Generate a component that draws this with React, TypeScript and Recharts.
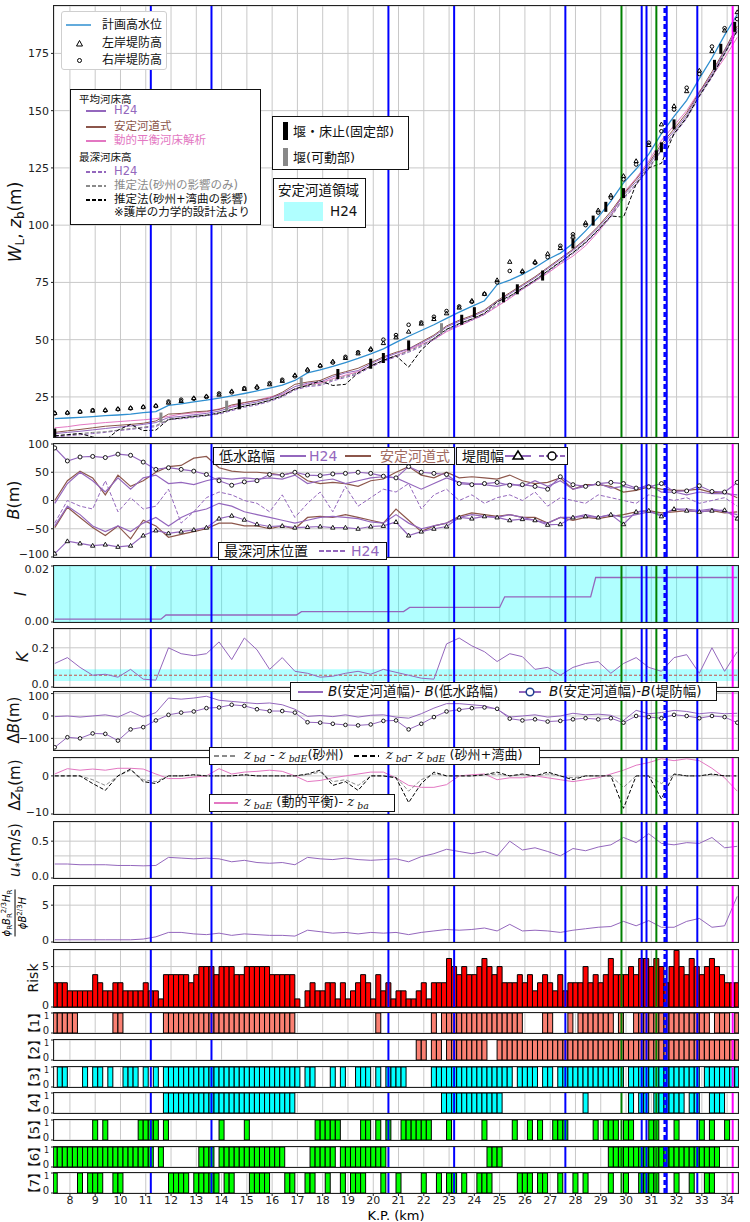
import React from "react";
import { ComposedChart, Line, Bar, Area, XAxis, YAxis, CartesianGrid, ReferenceLine, ReferenceArea } from "recharts";

// river distance (km) for the line series (0.5 km step) and the bar series (0.2 km step)
const KM = Array.from({ length: 55 }, (_, i) => Math.round((7.4 + 0.5 * i) * 10) / 10);
const BAR_KM = Array.from({ length: 136 }, (_, i) => Math.round((7.4 + 0.2 * i) * 10) / 10);
const X_DOMAIN: [number, number] = [7.37, 34.43];
const X_TICKS = [8, 9, 10, 11, 12, 13, 14, 15, 16, 17, 18, 19, 20, 21, 22, 23, 24, 25, 26, 27, 28, 29, 30, 31, 32, 33, 34];

// vertical marker lines
const BLUE_KM = [11.2, 13.6, 20.6, 23.2, 27.6, 30.62, 30.81, 31.61, 32.82];
const GREEN_KM = [29.82, 31.2];
const DASH_KM = [31.53];
const MAGENTA_KM = [34.22];

// --- water level / bed elevation (m)
const HWL = [15.5, 15.8, 16.1, 16.4, 16.8, 17.1, 17.5, 18.1, 18.6, 21.3, 22.0, 22.8, 23.6, 24.5, 25.5, 26.5, 27.6, 28.8, 30.2, 32.2, 35.5, 36.8, 38.3, 40.0, 41.8, 43.8, 46.0, 48.8, 51.5, 54.0, 56.5, 59.3, 62.0, 64.5, 67.0, 74.0, 76.0, 78.5, 81.5, 85.0, 87.8, 92.0, 97.5, 103.5, 110.5, 118.5, 124.5, 131.0, 140.0, 147.5, 154.5, 164.0, 173.0, 183.0, 192.0];
const LEVEE_L = [18.0, 18.2, 18.6, 19.0, 19.3, 19.8, 20.2, 20.7, 21.2, 22.5, 23.2, 24.5, 25.3, 26.0, 27.5, 28.5, 29.5, 30.5, 32.0, 34.5, 37.0, 38.8, 40.5, 42.0, 44.0, 46.0, 48.5, 51.0, 53.5, 57.0, 59.0, 61.5, 64.0, 67.0, 70.0, 76.0, 84.0, 80.0, 84.0, 87.5, 90.0, 95.0, 101.0, 106.5, 113.0, 121.5, 128.0, 135.0, 144.0, 152.0, 158.5, 167.5, 176.0, 185.0, 193.0];
const LEVEE_R = [17.8, 18.0, 18.5, 19.2, 19.0, 19.6, 20.0, 20.5, 21.0, 23.0, 23.8, 24.2, 25.0, 26.5, 27.0, 28.8, 29.0, 31.0, 32.5, 34.0, 36.5, 38.5, 40.0, 42.5, 44.5, 45.5, 50.0, 52.0, 56.5, 57.5, 60.0, 62.5, 64.5, 66.5, 70.0, 75.0, 80.0, 79.5, 83.5, 86.0, 91.0, 96.0, 100.0, 105.5, 112.0, 120.0, 126.5, 136.0, 141.0, 150.5, 160.0, 166.0, 178.0, 186.0, 190.0];
const BED_H24 = [9.0, 9.5, 10.0, 10.6, 11.2, 11.8, 12.3, 13.0, 13.8, 16.0, 16.5, 17.2, 17.8, 18.8, 20.5, 21.8, 22.8, 24.2, 26.5, 29.5, 31.0, 31.5, 33.8, 35.5, 36.5, 39.5, 42.0, 44.0, 46.0, 48.5, 51.5, 55.5, 58.0, 60.0, 62.5, 66.5, 70.0, 73.5, 77.0, 81.0, 85.0, 89.0, 93.5, 99.0, 105.0, 113.0, 119.0, 126.0, 134.5, 141.0, 148.0, 157.5, 166.0, 176.0, 186.0];
const BED_STABLE = [9.5, 10.2, 10.8, 11.5, 12.2, 12.6, 13.0, 13.5, 14.5, 17.5, 17.8, 18.5, 18.8, 19.5, 21.5, 22.5, 23.5, 24.5, 27.0, 30.5, 31.5, 32.2, 34.5, 36.0, 37.5, 40.0, 42.5, 44.5, 46.0, 49.0, 52.0, 56.0, 58.5, 60.5, 63.0, 67.0, 70.5, 74.0, 77.5, 81.5, 85.5, 89.5, 94.0, 99.5, 106.0, 113.5, 120.0, 127.0, 135.5, 142.0, 149.0, 158.0, 167.0, 176.5, 187.0];
const BED_DYN = [11.5, 12.0, 12.8, 13.3, 13.8, 14.2, 14.6, 15.0, 15.5, 16.5, 17.5, 18.0, 18.5, 19.8, 21.0, 22.5, 23.5, 25.0, 26.0, 28.5, 30.5, 31.0, 33.0, 34.5, 36.0, 38.5, 41.0, 43.0, 45.5, 48.0, 50.0, 53.5, 56.0, 58.5, 61.0, 64.5, 68.0, 72.0, 75.5, 79.0, 83.0, 86.5, 91.0, 97.0, 104.0, 114.0, 120.5, 128.0, 137.0, 143.5, 150.0, 158.5, 165.0, 173.0, 182.0];
const DEEP_H24 = [7.5, 8.0, 8.5, 9.0, 9.5, 10.3, 10.8, 11.5, 12.0, 15.0, 15.5, 16.0, 16.8, 17.5, 19.0, 20.5, 21.5, 23.0, 25.0, 28.0, 29.5, 30.0, 32.0, 33.5, 35.0, 38.0, 40.5, 42.5, 44.5, 47.0, 50.0, 54.0, 56.5, 58.5, 61.0, 65.0, 68.5, 72.0, 75.5, 79.5, 83.5, 87.5, 92.0, 97.5, 103.5, 111.5, 117.5, 124.5, 132.5, 139.5, 146.5, 156.0, 164.5, 174.5, 184.5];
const DEEP_SAND = [8.0, 8.5, 9.0, 9.5, 9.8, 10.5, 11.2, 11.8, 12.5, 15.2, 15.8, 16.5, 17.0, 18.0, 19.5, 21.0, 22.0, 23.5, 25.5, 28.5, 30.0, 30.5, 32.5, 34.0, 35.5, 38.5, 41.0, 43.0, 45.0, 47.5, 50.5, 54.5, 57.0, 59.0, 61.5, 65.5, 69.0, 72.5, 76.0, 80.0, 84.0, 88.0, 92.5, 98.0, 104.0, 112.0, 118.0, 125.0, 133.0, 140.0, 147.0, 156.5, 165.0, 175.0, 185.0];
const DEEP_BEND = [8.0, 8.5, 9.0, 7.5, 6.0, 10.5, 13.0, 10.3, 10.5, 15.2, 15.8, 16.5, 17.0, 18.0, 19.5, 21.0, 22.0, 23.5, 25.5, 28.5, 30.0, 32.0, 30.0, 30.5, 35.5, 38.5, 41.0, 43.0, 38.0, 45.5, 50.5, 54.5, 57.0, 59.0, 61.5, 66.5, 69.0, 72.5, 76.0, 80.0, 84.0, 88.0, 92.5, 98.0, 104.0, 103.5, 118.0, 125.0, 127.0, 140.0, 147.0, 156.5, 165.0, 175.0, 185.0];

// weirs / sills
const FIX_KM = [7.4, 14.7, 18.6, 19.9, 20.4, 21.4, 23.5, 24.0, 25.15, 25.7, 26.7, 27.9, 28.7, 29.2, 29.9, 31.2, 31.4, 31.9, 33.5, 33.75, 34.3];
const FIX_Z = [9.0, 21.8, 35.0, 39.5, 42.0, 47.5, 58.7, 62.0, 68.5, 72.0, 78.0, 92.0, 102.0, 108.0, 114.0, 130.5, 134.0, 144.0, 170.0, 177.0, 186.6];
const MOV_KM = [11.6, 14.2, 17.15, 22.7];
const MOV_Z = [16.0, 21.2, 31.3, 55.0];

// --- widths B (m)
const LOW_UP = [-5, 30, 50, 35, 15, 40, 20, 40, 45, 30, 32, 28, 35, 40, 38, 40, 38, 40, 38, 45, 30, 35, 38, 30, 35, 40, 42, 40, 30, 20, 30, 40, 32, 30, 28, 25, 30, 25, 35, 25, 35, 20, 25, 30, 22, 25, 20, 28, 15, 15, 10, 15, 12, 12, 10];
const LOW_LO = [-45, -10, -25, -45, -55, -45, -55, -40, -30, -45, -30, -20, -15, -5, -10, -20, -25, -30, -35, -40, -35, -30, -28, -30, -32, -38, -40, -25, -40, -50, -45, -40, -30, -25, -28, -30, -25, -30, -35, -40, -30, -30, -25, -30, -25, -30, -25, -20, -25, -15, -15, -18, -15, -20, -25];
const STB_UP = [0, 35, 52, 40, 10, 45, 25, 35, 50, 60, 62, 75, 78, 58, 52, 50, 50, 48, 45, 50, 35, 30, 32, 30, 25, 35, 38, 50, 60, 45, 40, 50, 40, 42, 40, 38, 45, 35, 30, 32, 40, 20, 28, 28, 25, 15, 18, 24, 20, 18, 18, 20, 14, 15, 5];
const STB_LO = [-48, -12, -30, -48, -62, -45, -68, -35, -45, -65, -60, -55, -50, -40, -40, -45, -45, -50, -45, -50, -30, -28, -30, -25, -30, -35, -40, -15, -35, -55, -45, -40, -28, -22, -25, -28, -25, -30, -30, -40, -30, -35, -30, -32, -28, -25, -20, -18, -22, -20, -18, -20, -18, -22, -20];
const DEEP_POS = [-40, 0, -10, -15, 35, -20, 5, -15, -10, 20, -40, -20, 5, 15, 10, 0, -5, -20, 10, -30, -5, 15, -20, 25, -10, 5, 20, 15, 30, -15, 10, 20, 0, 10, -5, 5, 10, 0, 15, -10, 5, 0, -5, 10, 5, 0, -5, 10, 5, 0, 5, -5, 0, 5, -10];
const LEVEE_BL = [-94, -72, -76, -80, -78, -82, -80, -62, -53, -58, -55, -52, -48, -32, -27, -34, -42, -46, -45, -48, -47, -46, -48, -48, -50, -46, -45, -38, -62, -55, -50, -46, -30, -32, -28, -30, -35, -33, -35, -43, -42, -30, -28, -30, -25, -42, -20, -18, -28, -15, -18, -20, -18, -17, -32];
const LEVEE_BR = [93, 70, 77, 78, 76, 82, 80, 68, 55, 58, 55, 52, 46, 35, 27, 33, 35, 46, 45, 50, 45, 44, 47, 48, 50, 48, 43, 40, 60, 50, 48, 46, 30, 28, 30, 32, 27, 28, 25, 20, 42, 28, 25, 30, 32, 30, 22, 24, 30, 16, 17, 26, 16, 15, 32];

// --- slope I (step values) and stable-channel band
const I_KM = [7.4, 11.6, 11.8, 16.96, 17.16, 21.2, 21.44, 25.0, 25.2, 28.6, 28.8, 34.4];
const I_VAL = [0.001, 0.001, 0.0025, 0.0025, 0.0037, 0.0037, 0.0052, 0.0052, 0.009, 0.009, 0.0159, 0.0159];
const I_BAND_KM = [7.3, 11.3, 11.35, 11.42, 34.5];
const I_BAND = [0.02, 0.02, 0.0185, 0.02, 0.02];

// --- K
const K_VAL = [0.12, 0.15, 0.10, 0.06, 0.065, 0.05, 0.09, 0.04, 0.035, 0.20, 0.17, 0.16, 0.17, 0.23, 0.14, 0.25, 0.19, 0.09, 0.15, 0.08, 0.07, 0.05, 0.055, 0.07, 0.08, 0.065, 0.09, 0.075, 0.06, 0.045, 0.04, 0.22, 0.25, 0.21, 0.18, 0.13, 0.17, 0.155, 0.09, 0.10, 0.06, 0.10, 0.12, 0.13, 0.07, 0.12, 0.15, 0.10, 0.08, 0.15, 0.165, 0.07, 0.2, 0.08, 0.18];
const K_BAND = [0.03, 0.09];
const K_CRIT = 0.06;

// --- ΔB (m)
const DB_LOW = [-3, 0, -5, 0, 5, -5, 20, -5, 15, 80, 75, 80, 88, 70, 65, 60, 55, 58, 50, 30, -2, 2, -3, 5, -5, 3, 5, -5, -10, 10, 35, 55, 55, 50, 45, 30, -5, 0, 5, -5, 0, 12, 5, 8, 3, -20, 25, 10, 15, 25, 20, 10, 15, 10, 12];
const DB_LEVEE = [-140, -95, -100, -78, -80, -110, -60, -50, -20, 5, 15, 20, 35, 38, 50, 45, 30, 22, 22, 15, -28, -30, -35, -40, -42, -38, -22, -20, -60, -35, -5, 20, 28, 35, 38, 32, -12, -20, -15, -25, -22, -15, -10, -15, -10, -30, 0, -5, -10, 5, 0, -10, 0, -5, -30];

// --- Δz_b (m)
const DZ_SAND = [0, 0, 0, -1, -2.5, 0, 1.5, -1, -1.5, 0, 0, 0.2, 0, 0, 0, 0.2, 0, 0, 0, 0, 0.3, 1, -1.5, -1, -2.5, 0, 0, -0.3, -4, -1, 0.5, 0, 0, 0, 0.2, 0.5, 0, 0.3, 0, 0.5, 0, -0.5, 0, 0, 0, -3, 0, 0, -2, 0.3, 0, 0, 0.3, 0, 0];
const DZ_BEND = [0, 0, 0, -2, -3.8, 0, 1.8, -1.5, -2, 0, 0, 0.3, 0, 0, 0, 0.3, 0, 0, 0, 0, 0.5, 1.5, -2.5, -1.5, -3.8, 0, 0, -0.5, -7, -2, 1, 0, 0, 0, 0.3, 1, 0, 0.5, 0, 1, 0, -1, 0, 0, 0, -8.5, 0, 0, -6, 0.5, 0, 0, 0.5, 0, 0];
const DZ_DYN = [0.5, 1.9, 1.5, 1.8, 1.5, 2.0, 2.0, 1.8, 0.5, -0.7, -0.7, -0.3, 0, 1.9, 0.5, 1.0, 1.2, 1.5, 1.2, 0, -1.5, -1.2, -0.5, 0, 0.5, 1.0, 1.0, -0.5, -2.5, -3.0, -3.0, -2.3, 0, 0.3, 0.5, -1.0, -0.5, -0.5, 0, -0.5, -1.0, -1.5, -1.0, -0.5, 0.5, 1.5, 2.8, 3.5, 4.5, 4.0, 4.5, 4.0, 2.0, -0.5, -4.0];

// --- u* (m/s) and width-depth ratio
const USTAR = [0.19, 0.19, 0.18, 0.18, 0.18, 0.17, 0.17, 0.165, 0.17, 0.28, 0.27, 0.26, 0.27, 0.26, 0.22, 0.24, 0.21, 0.2, 0.21, 0.18, 0.28, 0.26, 0.25, 0.27, 0.25, 0.24, 0.25, 0.26, 0.22, 0.29, 0.33, 0.39, 0.36, 0.33, 0.36, 0.3, 0.5, 0.38, 0.41, 0.36, 0.3, 0.4, 0.37, 0.42, 0.45, 0.55, 0.48, 0.6, 0.47, 0.45, 0.48, 0.47, 0.55, 0.41, 0.43];
const RATIO = [0.3, 0.3, 0.3, 0.3, 0.3, 0.3, 0.3, 0.4, 0.7, 1.3, 1.3, 1.1, 1.0, 1.2, 0.9, 1.1, 1.0, 0.9, 0.9, 0.8, 1.6, 1.4, 1.2, 1.3, 1.1, 1.3, 1.2, 1.3, 1.0, 1.3, 1.5, 1.7, 1.6, 1.7, 1.9, 1.5, 2.4, 1.5, 1.6, 1.5, 1.3, 1.6, 1.8, 2.0, 2.1, 2.8, 2.2, 2.9, 2.0, 2.0, 2.8, 3.2, 2.0, 2.2, 6.2];

// --- risk score and the seven criteria, one digit per 0.2 km section
const RISK_STR = "3332222243 2233222232 2144444345 5545554455 5554444410 2322331312 3431423122 1123133365 4544565453 3343423432 4233353434 6444546656 5357546545 654333";
const F1_STR = "1111100000 0011000000 0011111111 1111111111 1111111100 0000000000 0000100000 0000010111 1111111111 1110000110 0010111111 1010011111 1111111111 011101";
const F2_STR = "0000000000 0000000000 0000000000 0000000000 0000000000 0000000000 0000000000 0011011011 1111110011 1111111111 1111111111 1111111111 1111111111 111111";
const F3_STR = "0110001011 0100111010 1011111111 1111111111 1111111110 1100010100 1110101111 0000011111 1111111111 1011110110 1111111111 1110111111 1111111101 111111";
const F4_STR = "0000000000 0000000000 0011111111 1111111111 1111111100 0000000000 0000000000 0000000111 1111111110 0000000000 0000010000 0000101101 1111101100 111000";
const F5_STR = "0000000010 1000000111 1010000000 0001000010 0000000000 0011111000 0110101001 1111100010 0000010000 0100101001 1100000101 1101100011 0001000010 100100";
const F6_STR = "1111111111 1111111111 0100000001 1101111111 1111110000 0111110111 1111110000 0000000000 0000001110 0000000000 0000000000 1111111111 1111111111 110000";
const F7_STR = "1000010111 0011000000 0001111011 1110110001 1110001100 1100100101 1100010010 0001001011 0100111000 0011101100 1001010000 1001001111 0001001001 100000";

const digits = (s: string) => s.replace(/\s/g, "").split("").map(Number);

const LINE_ROWS = KM.map((km, i) => ({
  km, hwl: HWL[i], levL: LEVEE_L[i], levR: LEVEE_R[i], bedH24: BED_H24[i], bedSt: BED_STABLE[i], bedDyn: BED_DYN[i],
  deepH24: DEEP_H24[i], deepSand: DEEP_SAND[i], deepBend: DEEP_BEND[i],
  lowUp: LOW_UP[i], lowLo: LOW_LO[i], stbUp: STB_UP[i], stbLo: STB_LO[i], deepPos: DEEP_POS[i], levBL: LEVEE_BL[i], levBR: LEVEE_BR[i],
  k: K_VAL[i], dbLow: DB_LOW[i], dbLev: DB_LEVEE[i], dzSand: DZ_SAND[i], dzBend: DZ_BEND[i], dzDyn: DZ_DYN[i],
  ustar: USTAR[i], ratio: RATIO[i],
}));
const FLAG_STRS = [F1_STR, F2_STR, F3_STR, F4_STR, F5_STR, F6_STR, F7_STR].map(digits);
const RISK = digits(RISK_STR);
const BAR_ROWS = BAR_KM.map((km, i) => {
  const r: any = { km, risk: RISK[i] };
  FLAG_STRS.forEach((f, j) => (r["f" + (j + 1)] = f[i]));
  return r;
});
const FIX_ROWS = FIX_KM.map((km, i) => ({ km, z: FIX_Z[i] }));
const MOV_ROWS = MOV_KM.map((km, i) => ({ km, z: MOV_Z[i] }));
const I_ROWS = I_KM.map((km, i) => ({ km, v: I_VAL[i] }));
const I_BAND_ROWS = I_BAND_KM.map((km, i) => ({ km, v: I_BAND[i] }));

const FONT = "'DejaVu Sans', 'Noto Sans CJK JP', sans-serif";
const PAD = 8;
const PURPLE = "#9467bd";
const BROWN = "#8c564b";
const PINK = "#e377c2";
const minus = (v: number) => (v < 0 ? "\u2212" + Math.abs(v) : String(v));

const vlines = () => [
  ...BLUE_KM.map((k) => <ReferenceLine key={"b" + k} x={k} stroke="#0000ff" strokeWidth={2} />),
  ...GREEN_KM.map((k) => <ReferenceLine key={"g" + k} x={k} stroke="#008000" strokeWidth={2} />),
  ...DASH_KM.map((k) => <ReferenceLine key={"d" + k} x={k} stroke="#0000ff" strokeWidth={2.5} strokeDasharray="5 3" />),
  ...MAGENTA_KM.map((k) => <ReferenceLine key={"m" + k} x={k} stroke="#ff00ff" strokeWidth={2} />),
];

const tri = (s: number, fill: string, sw: number) => (p: any) => {
  if (p.cx == null || p.cy == null || isNaN(p.cy)) return <g key={"t" + p.index} />;
  const { cx, cy } = p;
  return <path key={"t" + p.index} d={`M${cx},${cy - s}L${cx + s * 0.95},${cy + s * 0.65}L${cx - s * 0.95},${cy + s * 0.65}Z`} fill={fill} stroke="#000" strokeWidth={sw} />;
};
const circ = (r: number, fill: string, stroke: string, sw: number) => (p: any) => {
  if (p.cx == null || p.cy == null || isNaN(p.cy)) return <g key={"c" + p.index} />;
  return <circle key={"c" + p.index} cx={p.cx} cy={p.cy} r={r} fill={fill} stroke={stroke} strokeWidth={sw} />;
};
const weir = (fill: string) => (p: any) => {
  if (p.cx == null || p.cy == null) return <g key={"w" + p.index} />;
  return <rect key={"w" + p.index} x={p.cx - 1.5} y={p.cy - 5} width={3} height={10} fill={fill} />;
};

// y tick label with a small vertical nudge for the ends that touch the next panel
const mkTick = (fmt: (v: number) => string, nudge: Record<string, number>, size = 11) => (p: any) => {
  const v = p.payload.value;
  const dy = nudge[String(v)] ?? 0;
  return (
    <text x={p.x} y={p.y} dy={dy + size * 0.35} textAnchor="end" fontSize={size} fill="#222">{fmt(v)}</text>
  );
};
const flagTick = (p: any) => {
  const v = p.payload.value;
  return (
    <text x={p.x} y={p.y} dy={v === 1 ? 6 : 1} textAnchor="end" fontSize={v === 1 ? 8 : 10} fill="#222">{v}</text>
  );
};

type PanelProps = {
  top: number; h: number; domain: [number, number]; ticks: number[];
  data: any[]; showX?: boolean; tick?: any; children: React.ReactNode;
};

function Panel({ top, h, domain, ticks, data, showX, tick, children }: PanelProps) {
  const bottom = showX ? 26 : PAD;
  return (
    <div style={{ position: "absolute", left: 0, top: top - PAD }}>
      <ComposedChart width={750} height={h + PAD + bottom} data={data}
        margin={{ top: PAD, right: 12, bottom: showX ? 0 : PAD, left: 14 }} barCategoryGap={0} barGap={0}>
        <CartesianGrid stroke="#c8c8c8" strokeWidth={1} />
        <XAxis type="number" dataKey="km" domain={X_DOMAIN} ticks={X_TICKS} interval={0} allowDataOverflow
          hide={!showX} height={showX ? 26 : 0} tickSize={3} tickMargin={0} axisLine={false}
          tick={{ fontSize: 11, fill: "#222" }} tickLine={{ stroke: "#222" }} />
        <YAxis type="number" domain={domain} ticks={ticks} interval={0} allowDataOverflow width={40}
          tickSize={3} axisLine={false}
          tick={tick || mkTick(minus, {})} tickLine={{ stroke: "#222" }} />
        {children}
        {vlines()}
      </ComposedChart>
      <div style={{ position: "absolute", left: 53, top: PAD - 1, width: 686, height: h + 2, border: "1.5px solid #222", boxSizing: "border-box", pointerEvents: "none" }} />
    </div>
  );
}

const VLabel = ({ x, y, size, children }: { x: number; y: number; size: number; children: React.ReactNode }) => (
  <div style={{ position: "absolute", left: x, top: y, transform: "translate(-50%, -50%) rotate(-90deg)", fontSize: size, whiteSpace: "nowrap", lineHeight: 1, color: "#111" }}>
    {children}
  </div>
);

const sub = (t: string) => <sub style={{ fontSize: "0.7em", verticalAlign: "-0.25em" }}>{t}</sub>;
const zs = (t: string) => (
  <span><span style={{ fontFamily: "'DejaVu Serif', serif", fontStyle: "italic" }}>z</span><sub style={{ fontSize: "0.72em", verticalAlign: "-0.3em", fontFamily: "'DejaVu Serif', serif", fontStyle: "italic" }}> {t}</sub></span>
);

const Box = ({ x, y, w, h, grey, children }: any) => (
  <div style={{ position: "absolute", left: x, top: y, width: w, height: h, background: "#fff", border: grey ? "1px solid #cfcfcf" : "1px solid #111", borderRadius: grey ? 3 : 0, boxSizing: "border-box" }}>
    {children}
  </div>
);
const Txt = ({ x, y, size, color, children }: any) => (
  <div style={{ position: "absolute", left: x, top: y, transform: "translateY(-50%)", fontSize: size, color: color || "#111", whiteSpace: "nowrap", lineHeight: 1 }}>{children}</div>
);
const Sample = ({ x, y, w, color, dash, width, marker }: any) => (
  <svg style={{ position: "absolute", left: x, top: y - 7 }} width={w} height={14}>
    <line x1={0} y1={7} x2={w} y2={7} stroke={color} strokeWidth={width || 2} strokeDasharray={dash} />
    {marker === "tri" && <path d={`M${w / 2},2L${w / 2 + 5},10L${w / 2 - 5},10Z`} fill="#fff" stroke="#000" strokeWidth={1.5} />}
    {marker === "circ" && <circle cx={w / 2} cy={7} r={4} fill="#fff" stroke="#000" strokeWidth={1.5} />}
    {marker === "circBlue" && <circle cx={w / 2} cy={7} r={3.8} fill="#fff" stroke="#1f3f8f" strokeWidth={1.5} />}
  </svg>
);

export default function App() {
  const flagPanels = [
    { key: "f1", label: "【1】", fill: "#fa8072", top: 1013 },
    { key: "f2", label: "【2】", fill: "#fa8072", top: 1040 },
    { key: "f3", label: "【3】", fill: "#00ffff", top: 1067 },
    { key: "f4", label: "【4】", fill: "#00ffff", top: 1093 },
    { key: "f5", label: "【5】", fill: "#00ff00", top: 1120 },
    { key: "f6", label: "【6】", fill: "#00ff00", top: 1147 },
    { key: "f7", label: "【7】", fill: "#00ff00", top: 1173 },
  ];
  const f1 = (v: number) => v.toFixed(1);
  const f2 = (v: number) => v.toFixed(2);
  return (
    <div style={{ position: "absolute", left: 0, top: 0, width: 750, height: 1222, background: "#fff", fontFamily: FONT, overflow: "hidden" }}>
      {/* main: water level & bed */}
      <Panel top={6} h={431} domain={[7.5, 195.7]} ticks={[25, 50, 75, 100, 125, 150, 175]} data={LINE_ROWS}>
        <Line dataKey="hwl" stroke="#2f8fd0" strokeWidth={1.3} dot={false} isAnimationActive={false} />
        <Line dataKey="levL" stroke="none" dot={tri(2.3, "none", 1)} activeDot={false} isAnimationActive={false} />
        <Line dataKey="levR" stroke="none" dot={circ(1.8, "none", "#000", 1)} activeDot={false} isAnimationActive={false} />
        <Line dataKey="bedDyn" stroke={PINK} strokeWidth={1} dot={false} isAnimationActive={false} />
        <Line dataKey="bedSt" stroke={BROWN} strokeWidth={1} dot={false} isAnimationActive={false} />
        <Line dataKey="bedH24" stroke={PURPLE} strokeWidth={1} dot={false} isAnimationActive={false} />
        <Line dataKey="deepH24" stroke={PURPLE} strokeWidth={1} strokeDasharray="4 2" dot={false} isAnimationActive={false} />
        <Line dataKey="deepSand" stroke="#7f7f7f" strokeWidth={1} strokeDasharray="4 2" dot={false} isAnimationActive={false} />
        <Line dataKey="deepBend" stroke="#000" strokeWidth={1} strokeDasharray="4 2" dot={false} isAnimationActive={false} />
        <Line data={MOV_ROWS} dataKey="z" stroke="none" dot={weir("#888")} activeDot={false} isAnimationActive={false} />
        <Line data={FIX_ROWS} dataKey="z" stroke="none" dot={weir("#000")} activeDot={false} isAnimationActive={false} />
      </Panel>

      {/* B */}
      <Panel top={444} h={113} domain={[-100, 100]} ticks={[-100, -50, 0, 50, 100]} tick={mkTick(minus, { "-100": -3 })} data={LINE_ROWS}>
        <Line dataKey="stbUp" stroke={BROWN} strokeWidth={1.2} dot={false} isAnimationActive={false} />
        <Line dataKey="stbLo" stroke={BROWN} strokeWidth={1.2} dot={false} isAnimationActive={false} />
        <Line dataKey="lowUp" stroke={PURPLE} strokeWidth={1.2} dot={false} isAnimationActive={false} />
        <Line dataKey="lowLo" stroke={PURPLE} strokeWidth={1.2} dot={false} isAnimationActive={false} />
        <Line dataKey="deepPos" stroke={PURPLE} strokeWidth={1} strokeDasharray="4 2" dot={false} isAnimationActive={false} />
        <Line dataKey="levBL" stroke={PURPLE} strokeWidth={1.2} dot={tri(2.3, "#fff", 0.9)} activeDot={false} isAnimationActive={false} />
        <Line dataKey="levBR" stroke={PURPLE} strokeWidth={1.2} dot={circ(2, "#fff", "#000", 0.9)} activeDot={false} isAnimationActive={false} />
      </Panel>

      {/* I */}
      <Panel top={566} h={56} domain={[0, 0.02]} ticks={[0, 0.02]} tick={mkTick(f2, { "0": -1, "0.02": 3 })} data={LINE_ROWS}>
        <Area data={I_BAND_ROWS} dataKey="v" type="linear" stroke="none" fill="#00ffff" fillOpacity={0.31} isAnimationActive={false} />
        <Line data={I_ROWS} dataKey="v" stroke={PURPLE} strokeWidth={1.3} dot={false} isAnimationActive={false} />
      </Panel>

      {/* K */}
      <Panel top={629} h={58} domain={[0, 0.296]} ticks={[0, 0.2]} tick={mkTick(f1, { "0": -3 })} data={LINE_ROWS}>
        <ReferenceArea y1={K_BAND[0]} y2={K_BAND[1]} fill="#00ffff" fillOpacity={0.31} stroke="none" />
        <ReferenceLine y={K_CRIT} stroke="#c8504a" strokeWidth={1} strokeDasharray="3 2" />
        <Line dataKey="k" stroke={PURPLE} strokeWidth={1} dot={false} isAnimationActive={false} />
      </Panel>

      {/* ΔB */}
      <Panel top={692} h={58} domain={[-152, 107]} ticks={[-100, 0, 100]} tick={mkTick(minus, { "100": 3 })} data={LINE_ROWS}>
        <Line dataKey="dbLow" stroke={PURPLE} strokeWidth={1} dot={false} isAnimationActive={false} />
        <Line dataKey="dbLev" stroke={PURPLE} strokeWidth={1} dot={circ(1.8, "#fff", "#000", 0.9)} activeDot={false} isAnimationActive={false} />
      </Panel>

      {/* Δz_b */}
      <Panel top={758} h={56} domain={[-10, 4.7]} ticks={[-10, 0]} tick={mkTick(minus, { "-10": -2 })} data={LINE_ROWS}>
        <Line dataKey="dzDyn" stroke={PINK} strokeWidth={1} dot={false} isAnimationActive={false} />
        <Line dataKey="dzSand" stroke="#8a8a8a" strokeWidth={1} strokeDasharray="4 2" dot={false} isAnimationActive={false} />
        <Line dataKey="dzBend" stroke="#000" strokeWidth={1} strokeDasharray="4 2" dot={false} isAnimationActive={false} />
      </Panel>

      {/* u* */}
      <Panel top={822} h={56} domain={[0, 0.76]} ticks={[0, 0.5]} tick={mkTick(f1, { "0": -2 })} data={LINE_ROWS}>
        <ReferenceLine y={0.3} stroke="#c8c8c8" />
        <Line dataKey="ustar" stroke={PURPLE} strokeWidth={1} dot={false} isAnimationActive={false} />
      </Panel>

      {/* ratio */}
      <Panel top={886} h={56} domain={[0, 7.6]} ticks={[0, 5]} tick={mkTick(minus, { "0": -2 })} data={LINE_ROWS}>
        <Line dataKey="ratio" stroke={PURPLE} strokeWidth={1} dot={false} isAnimationActive={false} />
      </Panel>

      {/* Risk */}
      <Panel top={950} h={57} domain={[0, 7.05]} ticks={[0, 5]} tick={mkTick(minus, { "0": -2 })} data={BAR_ROWS}>
        <Bar dataKey="risk" fill="#ff0000" stroke="#000" strokeWidth={1} barSize={5} isAnimationActive={false} />
      </Panel>

      {flagPanels.map((f, i) => (
        <Panel key={f.key} top={f.top} h={20} domain={[0, 1]} ticks={[0, 1]} data={BAR_ROWS} tick={flagTick} showX={i === flagPanels.length - 1}>
          <Bar dataKey={f.key} fill={f.fill} stroke="#000" strokeWidth={1} barSize={5} isAnimationActive={false} />
        </Panel>
      ))}

      {/* axis titles */}
      <VLabel x={17} y={222} size={17}><i>W</i>{sub("L")}, <i>z</i>{sub("b")}(m)</VLabel>
      <VLabel x={14} y={500} size={16}><i>B</i>(m)</VLabel>
      <VLabel x={21} y={594} size={16}><i>I</i></VLabel>
      <VLabel x={23} y={657} size={16}><i>K</i></VLabel>
      <VLabel x={14} y={720} size={15}>Δ<i>B</i>(m)</VLabel>
      <VLabel x={16} y={785} size={15}>Δ<i>z</i>{sub("b")}(m)</VLabel>
      <VLabel x={16} y={850} size={15}><i>u</i>{sub("*")}(m/s)</VLabel>
      <div style={{ position: "absolute", left: 14, top: 913, transform: "translate(-50%, -50%) rotate(-90deg)", fontSize: 10, textAlign: "center", lineHeight: 1.15, whiteSpace: "nowrap" }}>
        <div style={{ borderBottom: "1px solid #000", paddingBottom: 1 }}>
          <i>ϕ</i>{sub("R")}<i>B</i>{sub("R")}<sup style={{ fontSize: "0.7em" }}>2/3</sup><i>H</i>{sub("R")}
        </div>
        <div><i>ϕB</i><sup style={{ fontSize: "0.7em" }}>2/3</sup><i>H</i></div>
      </div>
      <VLabel x={33} y={978} size={14}>Risk</VLabel>
      {flagPanels.map((f) => (
        <VLabel key={"l" + f.key} x={34} y={f.top + 10} size={13}>{f.label}</VLabel>
      ))}
      <div style={{ position: "absolute", left: 396, top: 1215, transform: "translate(-50%, -50%)", fontSize: 13, whiteSpace: "nowrap", lineHeight: 1 }}>K.P. (km)</div>

      {/* legends: main panel */}
      <Box x={61} y={11} w={106} h={59} grey>
        <Sample x={4} y={13} w={25} color="#2f8fd0" width={1.5} />
        <Txt x={40} y={13} size={12}>計画高水位</Txt>
        <svg style={{ position: "absolute", left: 13, top: 27 }} width={9} height={9}><path d="M4.5,1.5L7.5,7L1.5,7Z" fill="none" stroke="#000" strokeWidth={1} /></svg>
        <Txt x={40} y={31} size={12}>左岸堤防高</Txt>
        <svg style={{ position: "absolute", left: 13, top: 44 }} width={9} height={9}><circle cx={4.5} cy={4.5} r={2} fill="none" stroke="#000" strokeWidth={1} /></svg>
        <Txt x={40} y={48} size={12}>右岸堤防高</Txt>
      </Box>
      <Box x={70} y={89} w={191} h={136}>
        <Txt x={8} y={9} size={10.5}>平均河床高</Txt>
        <Sample x={15} y={21} w={20} color={PURPLE} />
        <Txt x={43} y={21} size={11.5} color={PURPLE}>H24</Txt>
        <Sample x={15} y={37} w={20} color={BROWN} />
        <Txt x={43} y={37} size={11.5} color={BROWN}>安定河道式</Txt>
        <Sample x={15} y={51} w={20} color={PINK} />
        <Txt x={43} y={51} size={11.5} color={PINK}>動的平衡河床解析</Txt>
        <Txt x={8} y={67} size={10.5}>最深河床高</Txt>
        <Sample x={15} y={82} w={20} color={PURPLE} dash="4 2" />
        <Txt x={43} y={82} size={11.5} color={PURPLE}>H24</Txt>
        <Sample x={15} y={96} w={20} color="#8a8a8a" dash="4 2" />
        <Txt x={43} y={96} size={11.5} color="#8a8a8a">推定法(砂州の影響のみ)</Txt>
        <Sample x={15} y={110} w={20} color="#000" dash="4 2" />
        <Txt x={43} y={110} size={11.5}>推定法(砂州+湾曲の影響)</Txt>
        <Txt x={43} y={123} size={11.5}>※護岸の力学的設計法より</Txt>
      </Box>
      <Box x={272} y={116} w={137} h={54}>
        <div style={{ position: "absolute", left: 10, top: 5, width: 5, height: 18, background: "#000" }} />
        <Txt x={20} y={14} size={13}>堰・床止(固定部)</Txt>
        <div style={{ position: "absolute", left: 10, top: 31, width: 5, height: 18, background: "#888" }} />
        <Txt x={20} y={40} size={13}>堰(可動部)</Txt>
      </Box>
      <Box x={273} y={178} w={93} h={50}>
        <Txt x={4} y={12} size={13.5}>安定河道領域</Txt>
        <div style={{ position: "absolute", left: 10, top: 23, width: 39, height: 19, background: "#b0ffff" }} />
        <Txt x={56} y={33} size={13.5}>H24</Txt>
      </Box>

      {/* legends: B panel */}
      <Box x={213} y={447} w={242} h={18}>
        <Txt x={5} y={8} size={14}>低水路幅</Txt>
        <Sample x={66} y={8} w={26} color={PURPLE} />
        <Txt x={95} y={8} size={14} color={PURPLE}>H24</Txt>
        <Sample x={131} y={8} w={26} color={BROWN} />
        <Txt x={166} y={8} size={14} color="#a06a60">安定河道式</Txt>
      </Box>
      <Box x={456} y={447} w={112} h={18}>
        <Txt x={5} y={8} size={14}>堤間幅</Txt>
        <Sample x={48} y={8} w={26} color={PURPLE} marker="tri" />
        <Sample x={82} y={8} w={26} color={PURPLE} dash="5 2" marker="circ" />
      </Box>
      <Box x={218} y={542} w={169} h={18}>
        <Txt x={5} y={8} size={14}>最深河床位置</Txt>
        <Sample x={100} y={8} w={26} color={PURPLE} dash="5 2" />
        <Txt x={132} y={8} size={14} color={PURPLE}>H24</Txt>
      </Box>

      {/* legend: ΔB */}
      <Box x={290} y={682} w={427} h={19}>
        <Sample x={7} y={9} w={25} color={PURPLE} />
        <Txt x={37} y={9} size={13.5}><i>B</i>(安定河道幅)- <i>B</i>(低水路幅)</Txt>
        <Sample x={228} y={9} w={22} color={PURPLE} marker="circBlue" />
        <Txt x={258} y={9} size={13.5}><i>B</i>(安定河道幅)-<i>B</i>(堤防幅)</Txt>
      </Box>

      {/* legends: Δz_b */}
      <Box x={209} y={747} w={331} h={18}>
        <Sample x={4} y={8} w={24} color="#8a8a8a" dash="5 3" />
        <Txt x={34} y={8} size={13}>{zs("bd")} - {zs("bdE")}(砂州)</Txt>
        <Sample x={144} y={8} w={25} color="#000" dash="5 3" />
        <Txt x={176} y={8} size={13}>{zs("bd")}- {zs("bdE")} (砂州+湾曲)</Txt>
      </Box>
      <Box x={209} y={794} w={186} h={18}>
        <Sample x={4} y={8} w={24} color={PINK} />
        <Txt x={34} y={8} size={13}>{zs("baE")} (動的平衡)- {zs("ba")}</Txt>
      </Box>
    </div>
  );
}
